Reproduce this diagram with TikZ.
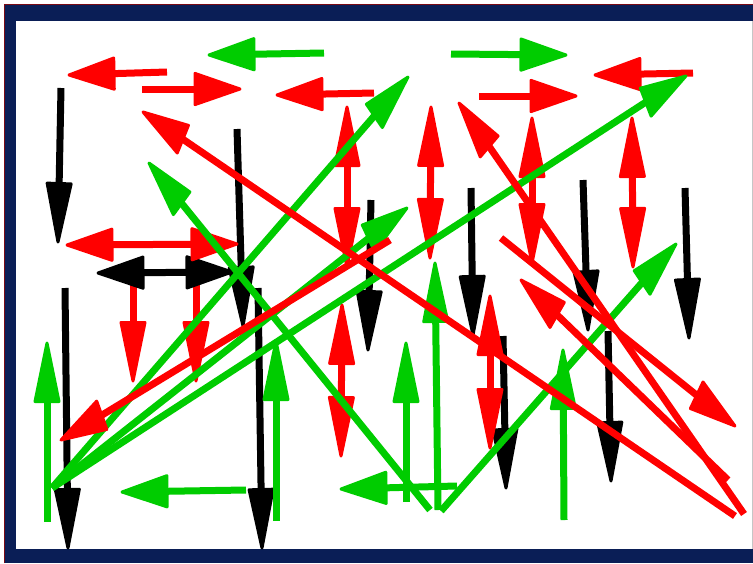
\documentclass[tikz,border=0pt]{standalone}
\usetikzlibrary{calc}
\definecolor{navy}{HTML}{0A1E56}
\definecolor{gr}{HTML}{00CC00}
\definecolor{rd}{HTML}{FF0000}
\definecolor{frameRed}{HTML}{7A0A14}
\tikzset{shaft/.style={line width=7pt}, tiphead/.style={line width=3pt, line join=round}}
\newcommand\mkhead[3]{\path[tiphead, fill=#1, draw=#1] let \p1=(#2), \p2=(#3), \n1={atan2((\y2-\y1)/1.3,\x2-\x1)} in (\p2) -- ({\x2-45*cos(\n1)-12*sin(\n1)},{\y2-58.5*sin(\n1)+15.6*cos(\n1)}) -- ({\x2-45*cos(\n1)+12*sin(\n1)},{\y2-58.5*sin(\n1)-15.6*cos(\n1)}) -- cycle;}
\newcommand\mkarr[3]{\draw[shaft, #1] let \p1=(#2), \p2=(#3), \n1={atan2((\y2-\y1)/1.3,\x2-\x1)} in (\p1) -- ({\x2-40*cos(\n1)},{\y2-52*sin(\n1)}); \mkhead{#1}{#2}{#3}}
\newcommand\mkdarr[3]{\draw[shaft, #1] let \p1=(#2), \p2=(#3), \n1={atan2((\y2-\y1)/1.3,\x2-\x1)} in ({\x1+40*cos(\n1)},{\y1+52*sin(\n1)}) -- ({\x2-40*cos(\n1)},{\y2-52*sin(\n1)}); \mkhead{#1}{#2}{#3}\mkhead{#1}{#3}{#2}}
% single arrow: colour, name, x1, y1, x2, y2 (image pixels, y downward)
\newcommand\SA[6]{\coordinate (#2s) at (#3,-#4); \coordinate (#2e) at (#5,-#6); \mkarr{#1}{#2s}{#2e}}
\newcommand\DA[6]{\coordinate (#2s) at (#3,-#4); \coordinate (#2e) at (#5,-#6); \mkdarr{#1}{#2s}{#2e}}
\begin{document}
\begin{tikzpicture}[x=1pt,y=1pt]
\useasboundingbox (0,0) rectangle (753,-563);
% frame
\fill[navy] (5,-5) rectangle (753,-563);
\fill[white] (16,-21) rectangle (753,-549);
\draw[gray!45, line width=1pt] (752.5,-21) -- (752.5,-549);
\draw[frameRed, line width=1pt] (4.5,-563) -- (4.5,-4.5) -- (753,-4.5);
% red verticals under the black double arrow
\SA{rd}{r18a}{133}{280}{133}{381}
\SA{rd}{r18b}{196}{280}{196}{381}
% black arrows
\SA{black}{b5}{61}{88}{58}{242}
\SA{black}{b7}{237}{129}{243}{326}
\DA{black}{b8}{98}{273}{232}{272}
\SA{black}{b19}{65}{288}{68}{548}
\SA{black}{b21}{258}{288}{262}{548}
\SA{black}{b25}{371}{200}{368}{350}
\SA{black}{b29}{471}{188}{473}{335}
\SA{black}{b31}{503}{336}{506}{488}
\SA{black}{b40}{583}{180}{588}{330}
\SA{black}{b41}{608}{331}{611}{481}
\SA{black}{b42}{685}{188}{689}{338}
% short red arrows
\SA{rd}{r2}{167}{72}{69}{75}
\SA{rd}{r3}{142}{89}{240}{89}
\SA{rd}{r4}{374}{93}{277}{95}
\DA{rd}{r9}{67}{245}{237}{244}
\DA{rd}{r10}{347}{107}{347}{267}
\DA{rd}{r24}{342}{305}{341}{456}
\DA{rd}{r26}{431}{107}{430}{258}
\DA{rd}{r30}{490}{296}{490}{448}
\SA{rd}{r33}{479}{96}{576}{96}
\SA{rd}{r34}{693}{73}{595}{75}
\DA{rd}{r35}{532}{118}{532}{263}
\DA{rd}{r36}{632}{118}{633}{267}
% green arrows
\SA{gr}{g1}{324}{53}{209}{55}
\SA{gr}{g32}{451}{54}{566}{55}
\SA{gr}{g11}{52}{488}{408}{77}
\SA{gr}{g15}{52}{488}{686}{76}
\SA{gr}{g16}{52}{488}{407}{208}
\SA{gr}{g12}{430}{510}{149}{163}
\SA{gr}{g13}{441}{511}{676}{244}
\SA{gr}{g14}{457}{486}{341}{489}
\SA{gr}{g20}{47}{522}{47}{343}
\SA{gr}{g22}{276}{521}{276}{341}
\SA{gr}{g23}{246}{490}{122}{492}
\SA{gr}{g27}{438}{510}{435}{263}
\SA{gr}{g28}{406}{502}{406}{343}
\SA{gr}{g43}{564}{520}{563}{350}
% long red diagonals
\SA{rd}{r6}{735}{516}{143}{112}
\SA{rd}{r17}{390}{240}{61}{440}
\SA{rd}{r37}{744}{514}{459}{103}
\SA{rd}{r38}{501}{238}{735}{426}
\SA{rd}{r39}{728}{480}{521}{280}
\end{tikzpicture}
\end{document}
